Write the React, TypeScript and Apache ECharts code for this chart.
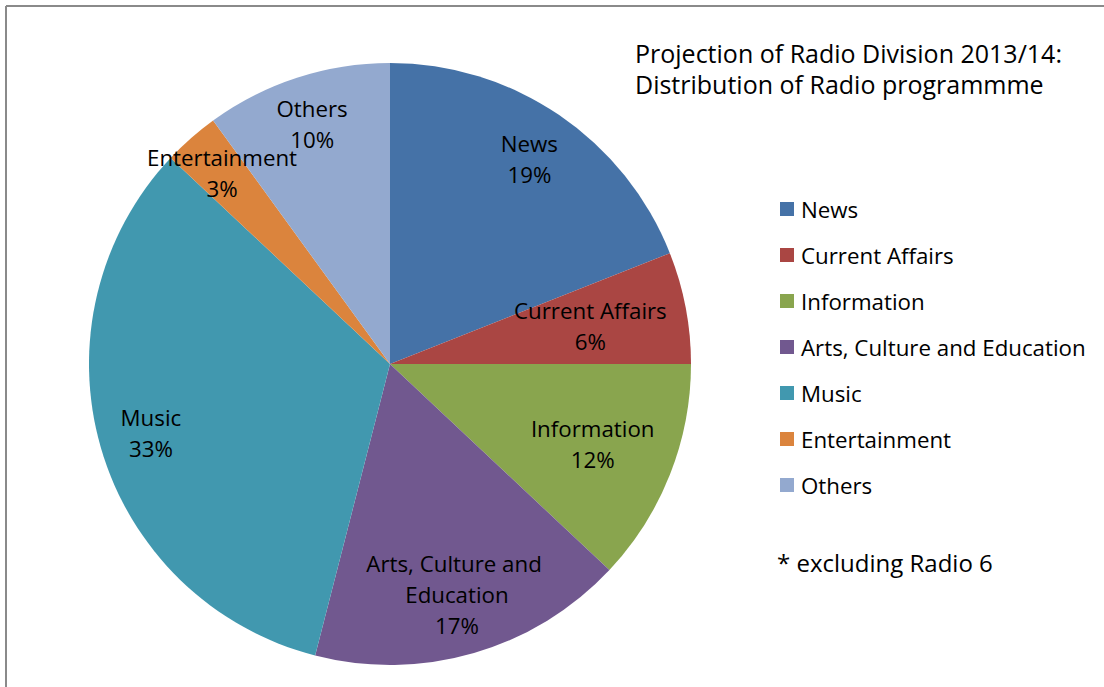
import React, { useEffect, useRef } from "react";
import * as echarts from "echarts";

const categories = [
  "News",
  "Current Affairs",
  "Information",
  "Arts, Culture and Education",
  "Music",
  "Entertainment",
  "Others",
];
const values = [19, 6, 12, 17, 33, 3, 10];
const colors = ["#4572A7", "#AA4643", "#89A54E", "#71588F", "#4198AF", "#DB843D", "#93A9CF"];
const titleLines = ["Projection of Radio Division 2013/14:", "Distribution of Radio programmme"];
const footnote = "* excluding Radio 6";

// layout constants
const CX = 390;
const CY = 364;
const R = 301;
const LABEL_RADIUS = [248, 204, 218, 240, 249, 254, 252];
const FONT = "'Open Sans', Lato, 'DejaVu Sans', sans-serif";
const FS = 22.3;

export default function App() {
  const ref = useRef<HTMLDivElement>(null);

  useEffect(() => {
    document.body.style.margin = "0";
    if (!ref.current) return;
    const chart = echarts.init(ref.current, null, { renderer: "svg" });
    const total = values.reduce((a, b) => a + b, 0);
    const cum: number[] = [];
    values.reduce((acc, v, i) => {
      cum[i] = acc;
      return acc + v;
    }, 0);

    chart.setOption({
      animation: false,
      backgroundColor: "#ffffff",
      color: colors,
      title: [
        {
          text: titleLines.join("\n"),
          left: 635,
          top: 37,
          padding: 0,
          textStyle: {
            fontFamily: FONT,
            fontSize: 25,
            fontWeight: "normal",
            color: "#000",
            lineHeight: 31,
          },
        },
        {
          text: footnote,
          left: 777,
          top: 549,
          padding: 0,
          textStyle: {
            fontFamily: FONT,
            fontSize: 24,
            fontWeight: "normal",
            color: "#000",
            lineHeight: 26,
          },
        },
      ],
      legend: {
        orient: "vertical",
        left: 780,
        top: 198,
        padding: 0,
        itemWidth: 14,
        itemHeight: 14,
        itemGap: 24,
        icon: "rect",
        data: categories,
        selectedMode: false,
        textStyle: {
          fontFamily: FONT,
          fontSize: FS,
          color: "#000",
          lineHeight: 20,
          padding: [0, 0, 0, 2],
        },
      },
      graphic: [
        {
          type: "line",
          shape: { x1: 6, y1: 6, x2: 1104, y2: 6 },
          style: { stroke: "#8a8a8a", lineWidth: 2 },
          z: 10,
        },
        {
          type: "line",
          shape: { x1: 6, y1: 6, x2: 6, y2: 687 },
          style: { stroke: "#8a8a8a", lineWidth: 2 },
          z: 10,
        },
      ],
      series: [
        {
          type: "pie",
          center: [CX, CY],
          radius: [0, R],
          startAngle: 90,
          clockwise: true,
          avoidLabelOverlap: false,
          itemStyle: { borderWidth: 0 },
          emphasis: { disabled: true },
          label: {
            show: true,
            position: "inside",
            formatter: "{b}\n{c}%",
            fontFamily: FONT,
            fontSize: FS,
            lineHeight: 31,
            color: "#000",
            width: 200,
            overflow: "break",
            align: "center",
          },
          labelLine: { show: false },
          labelLayout: (params: any) => {
            const i = params.dataIndex;
            const theta = ((cum[i] + values[i] / 2) / total) * 2 * Math.PI;
            const r = LABEL_RADIUS[i];
            return {
              x: CX + r * Math.sin(theta),
              y: CY - r * Math.cos(theta),
              align: "center",
              verticalAlign: "middle",
            };
          },
          data: categories.map((name, i) => ({ name, value: values[i] })),
        },
      ],
    });
    return () => chart.dispose();
  }, []);

  return <div ref={ref} style={{ width: 1104, height: 687 }} />;
}
